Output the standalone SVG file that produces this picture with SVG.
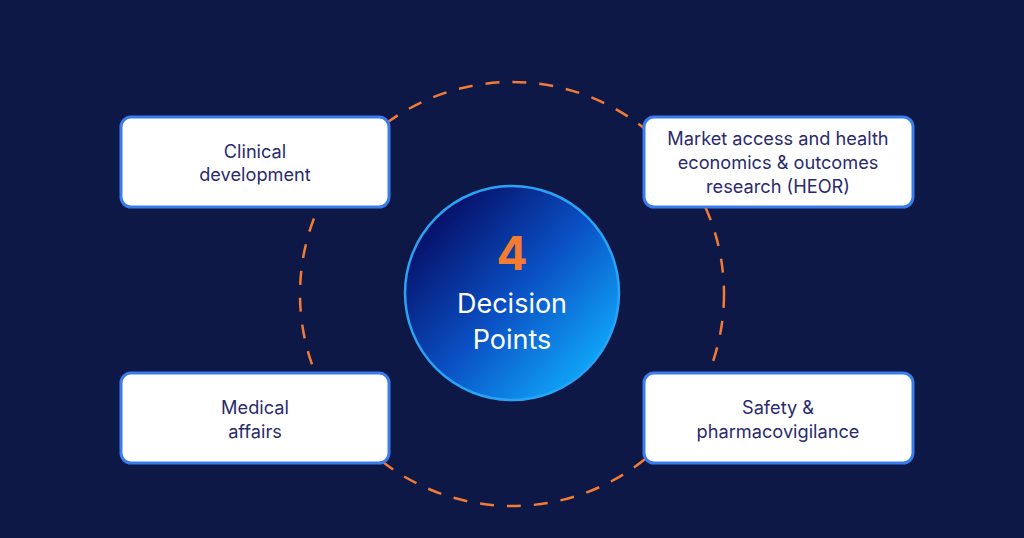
<svg xmlns="http://www.w3.org/2000/svg" width="1024" height="538" viewBox="0 0 1024 538">
<defs>
<linearGradient id="cg" x1="0.15" y1="0.15" x2="0.9" y2="0.85">
<stop offset="0" stop-color="#06116a"/>
<stop offset="0.5" stop-color="#0a50c4"/>
<stop offset="1" stop-color="#10a8fa"/>
</linearGradient>
<style>
.box{fill:#ffffff;stroke:#3b7cec;stroke-width:3}
.lbl{font-family:Inter,"Liberation Sans",sans-serif;font-size:18.2px;fill:#2a2a6e;text-anchor:middle}
.ctr{font-family:Inter,"Liberation Sans",sans-serif;fill:#ffffff;text-anchor:middle}
</style>
</defs>
<rect width="1024" height="538" fill="#0e1846"/>
<g id="connectors">
<circle cx="512" cy="294" r="212" fill="none" stroke="#f27b35" stroke-width="2.5" stroke-dasharray="14 13"/>
</g>
<g id="center">
<circle cx="512" cy="293" r="107" fill="url(#cg)" stroke="#2aa3f5" stroke-width="2.5"/>
<text x="512" y="270" font-family="Inter,'Liberation Sans',sans-serif" font-size="46" font-weight="700" fill="#f47c30" text-anchor="middle">4</text>
<text class="ctr" x="512" y="313" font-size="27">Decision</text>
<text class="ctr" x="512" y="349" font-size="27">Points</text>
</g>
<g id="clinical">
<rect class="box" x="121" y="117" width="268" height="90" rx="10"/>
<text class="lbl" x="255" y="158">Clinical</text>
<text class="lbl" x="255" y="181">development</text>
</g>
<g id="market">
<rect class="box" x="644" y="117" width="269" height="90" rx="10"/>
<text class="lbl" x="778" y="145">Market access and health</text>
<text class="lbl" x="778" y="169">economics &amp; outcomes</text>
<text class="lbl" x="778" y="193">research (HEOR)</text>
</g>
<g id="medical">
<rect class="box" x="121" y="373" width="268" height="90" rx="10"/>
<text class="lbl" x="255" y="414">Medical</text>
<text class="lbl" x="255" y="438">affairs</text>
</g>
<g id="safety">
<rect class="box" x="644" y="373" width="269" height="90" rx="10"/>
<text class="lbl" x="778" y="414">Safety &amp;</text>
<text class="lbl" x="778" y="438">pharmacovigilance</text>
</g>
</svg>
